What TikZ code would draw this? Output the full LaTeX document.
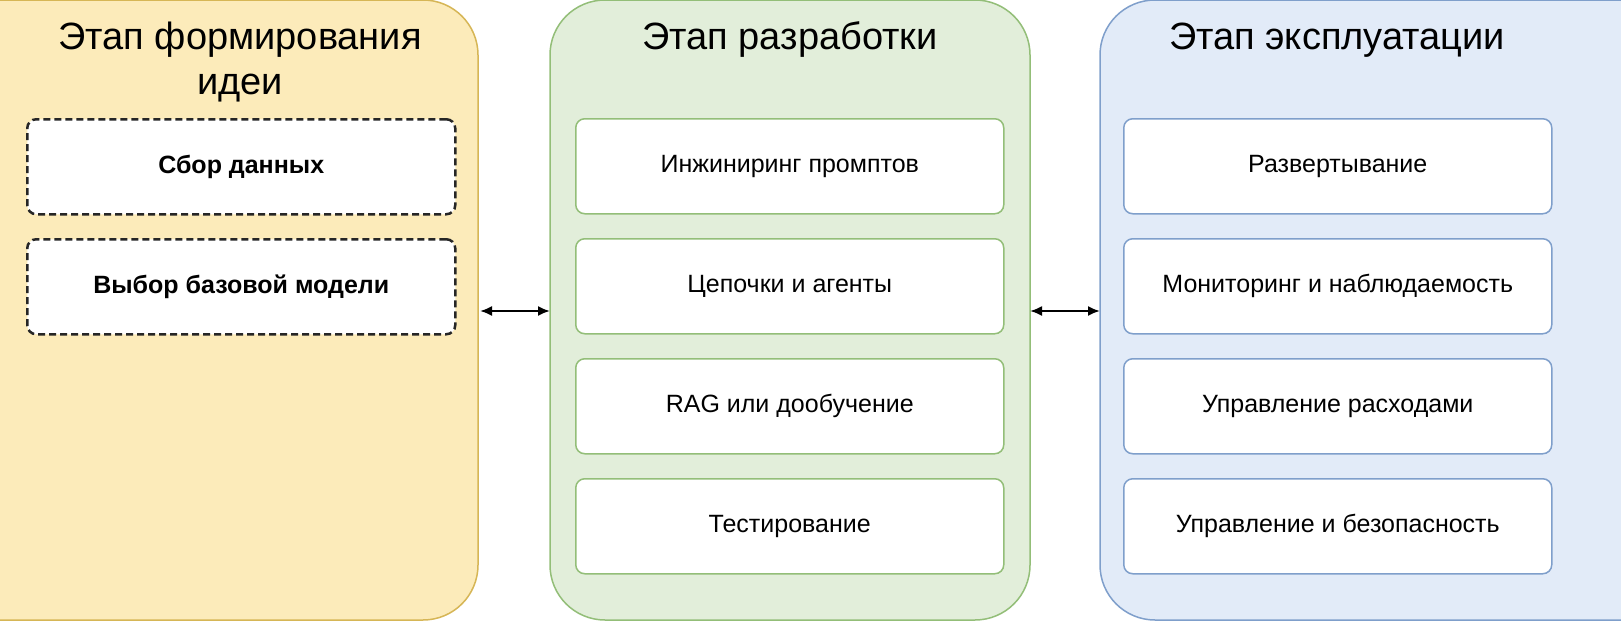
\documentclass[tikz,border=0pt]{standalone}
\usepackage{fontspec}
\setmainfont{Liberation Sans}
\usetikzlibrary{arrows.meta}
\begin{document}
\begin{tikzpicture}[x=1pt,y=-1pt,
 panel/.style={draw,line width=1.5pt,rounded corners=55pt},
 item/.style={draw,line width=1.5pt,rounded corners=9pt,fill=white,minimum width=428pt,minimum height=95pt,font=\fontsize{25}{30}\selectfont,align=center,anchor=north west},
 idea/.style={item,draw=black!85,dash pattern=on 7pt off 4pt,line width=2.5pt,font=\fontsize{25}{30}\selectfont\bfseries},
 dev/.style={item},
 ops/.style={item},
 title/.style={font=\fontsize{38}{45}\selectfont,align=center},
 arr/.style={{Latex[length=12pt,width=10pt]}-{Latex[length=12pt,width=10pt]},line width=2pt}]
\useasboundingbox (0,0) rectangle (1621,640);
\clip (0,0) rectangle (1621,640);
\definecolor{yf}{HTML}{FCEBBA}\definecolor{ys}{HTML}{D6B656}
\definecolor{gf}{HTML}{E2EEDA}\definecolor{gs}{HTML}{93BE78}
\definecolor{bf}{HTML}{E2EBF8}\definecolor{bs}{HTML}{7F9FCB}
\path[panel,fill=yf,draw=ys] (-60,0) rectangle (478,620);
\path[panel,fill=gf,draw=gs] (550,0) rectangle (1030,620);
\path[panel,fill=bf,draw=bs] (1100,0) rectangle (1700,620);
\node[title] (t1) at (240,62) {Этап формирования\\идеи};
\node[title] (t2) at (790,40) {Этап разработки};
\node[title] (t3) at (1337,40) {Этап эксплуатации};
\node[idea] (a1) at (26,118) {Сбор данных};
\node[idea] (a2) at (26,238) {Выбор базовой модели};
\foreach \n/\t [count=\i from 0] in {b1/Инжиниринг промптов,b2/Цепочки и агенты,b3/RAG или дообучение,b4/Тестирование}
  \node[dev,draw=gs] (\n) at (575,118+120*\i) {\t};
\foreach \n/\t [count=\i from 0] in {c1/Развертывание,c2/Мониторинг и наблюдаемость,c3/Управление расходами,c4/Управление и безопасность}
  \node[ops,draw=bs] (\n) at (1123,118+120*\i) {\t};
\coordinate (p1) at (480,311);\coordinate (p2) at (550,311);
\coordinate (p3) at (1030,311);\coordinate (p4) at (1100,311);
\draw[arr] (p1) -- (p2);
\draw[arr] (p3) -- (p4);
\end{tikzpicture}
\end{document}
